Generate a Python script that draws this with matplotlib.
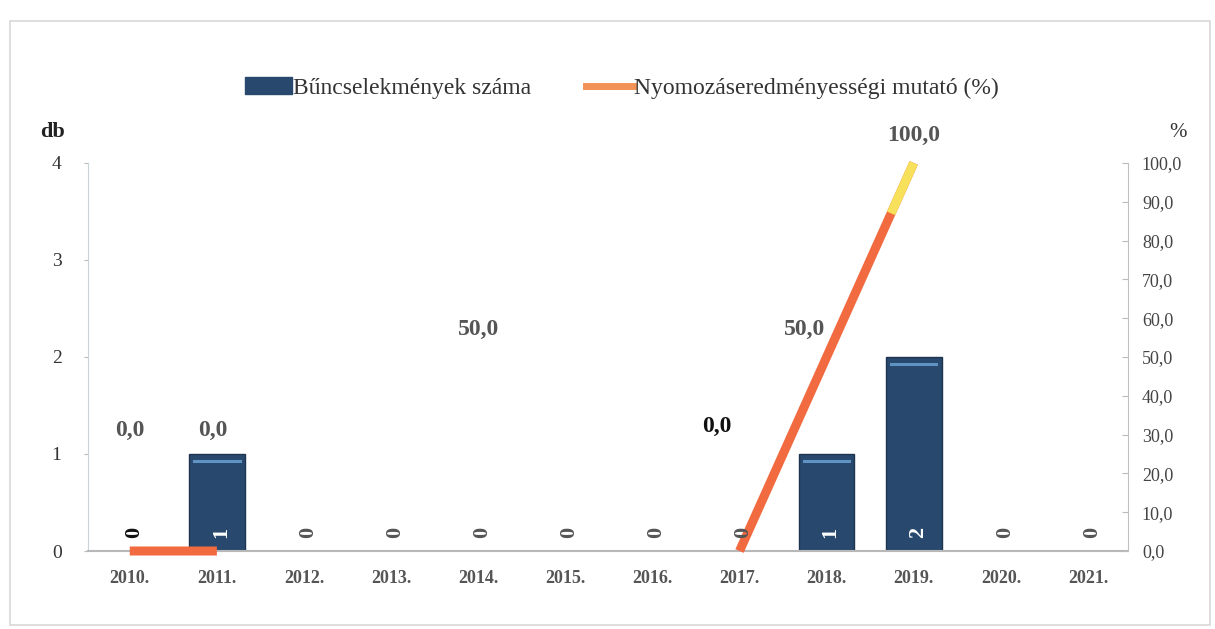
import numpy as np
import matplotlib.pyplot as plt
from matplotlib.patches import Rectangle
from matplotlib.lines import Line2D

years = ['2010.', '2011.', '2012.', '2013.', '2014.', '2015.', '2016.',
         '2017.', '2018.', '2019.', '2020.', '2021.']
cases = [0, 1, 0, 0, 0, 0, 0, 0, 1, 2, 0, 0]
rate = [0.0, 0.0, np.nan, np.nan, np.nan, np.nan, np.nan, 0.0, 50.0, 100.0, np.nan, np.nan]
# value labels as printed on the chart (incl. the stray one at 2014)
rate_labels = ['0,0', '0,0', '', '', '50,0', '', '', '0,0', '50,0', '100,0', '', '']

serif = 'Liberation Serif'
bar_col = '#28486d'
line_col = '#f26a3f'

fig = plt.figure(figsize=(12.15, 6.29), dpi=100)
fig.patches.append(Rectangle((0.008, 0.006), 0.988, 0.96, transform=fig.transFigure,
                             fill=False, edgecolor='#d8d8d8', lw=1.2))

ax = fig.add_axes([0.0724, 0.124, 0.856, 0.617])
ax2 = ax.twinx()

x = np.arange(len(years))
bars = ax.bar(x, cases, width=0.64, color=bar_col, edgecolor='#1d3550', lw=1.0, zorder=2)
for b in bars:
    h = b.get_height()
    if h > 0:
        ax.plot([b.get_x() + 0.06, b.get_x() + b.get_width() - 0.06], [h - 0.07, h - 0.07],
                color='#5f93c4', lw=2.2, zorder=3)

ax.set_xlim(-0.48, 11.46)
ax.set_ylim(0, 4)
ax.set_yticks([0, 1, 2, 3, 4])
ax.set_xticks(x)
ax.set_xticklabels(years, fontfamily=serif, fontweight='bold', fontsize=13, color='#555555')
for t in ax.get_yticklabels():
    t.set_fontfamily(serif)
    t.set_fontsize(14)
    t.set_color('#333333')
ax.tick_params(axis='x', length=0, pad=14)
ax.tick_params(axis='y', length=3, color='#bbbbbb', pad=16)
for s in ['top', 'right']:
    ax.spines[s].set_visible(False)
ax.spines['left'].set_color('#c8d4d8')
ax.spines['bottom'].set_color('#b8b8b8')
ax.spines['bottom'].set_linewidth(1.5)

# percent line on the right axis
ax2.plot(x, rate, color=line_col, lw=6.5, solid_capstyle='butt', zorder=1, clip_on=False)
# yellow tip on the last segment
r = np.array(rate)
ok = ~np.isnan(r)
xi, ri = x[ok][-2:], r[ok][-2:]
f = 0.74
ax2.plot([xi[0] + f * (xi[1] - xi[0]), xi[1]], [ri[0] + f * (ri[1] - ri[0]), ri[1]],
         color='#f7e05a', lw=6.5, solid_capstyle='butt', zorder=1, clip_on=False)
ax2.set_ylim(0, 100)
ax2.set_yticks(np.arange(0, 101, 10))
ax2.set_yticklabels([f'{v:.1f}'.replace('.', ',') for v in np.arange(0, 101, 10)],
                    fontfamily=serif, fontsize=13, color='#444444')
ax2.tick_params(axis='y', length=4, color='#bbbbbb', direction='in', pad=10)
for s in ['top', 'left', 'bottom']:
    ax2.spines[s].set_visible(False)
ax2.spines['right'].set_color('#c0c0c0')

# bar value labels, rotated (drawn on top of the line)
for i, v in enumerate(cases):
    c = 'white' if v > 0 else '#555555'
    if i == 0:
        c = '#111111'
    ax2.text(x[i] + 0.045, 0.19, str(v), rotation=90, ha='center', va='center',
             transform=ax.transData, fontfamily=serif, fontweight='bold', fontsize=16,
             color=c, zorder=4)

label_y = [31, 31, 0, 0, 57, 0, 0, 32, 57, 107, 0, 0]
label_dx = [0, -0.05, 0, 0, 0, 0, 0, -0.26, -0.25, 0, 0, 0]
for i, lab in enumerate(rate_labels):
    if lab:
        ax2.text(x[i] + label_dx[i], label_y[i], lab, ha='center', va='center',
                 fontfamily=serif, fontweight='bold', fontsize=17,
                 color='#111111' if i == 7 else '#555555', clip_on=False)

fig.text(0.033, 0.79, 'db', fontfamily=serif, fontweight='bold', fontsize=16,
         color='#222222', va='center')
fig.text(0.962, 0.79, '%', fontfamily=serif, fontsize=15, color='#333333', va='center')

handles = [Rectangle((0, 0), 1, 1, color=bar_col),
           Line2D([0], [0], color='#f39257', lw=5)]
fig.legend(handles, ['Bűncselekmények száma', 'Nyomozáseredményességi mutató (%)'],
           loc='center', bbox_to_anchor=(0.512, 0.86), ncol=2, frameon=False,
           prop={'family': serif, 'size': 17}, handlelength=2.0, handletextpad=0.05,
           columnspacing=2.3, labelcolor='#333333')

fig.savefig('out.png', dpi=100)
